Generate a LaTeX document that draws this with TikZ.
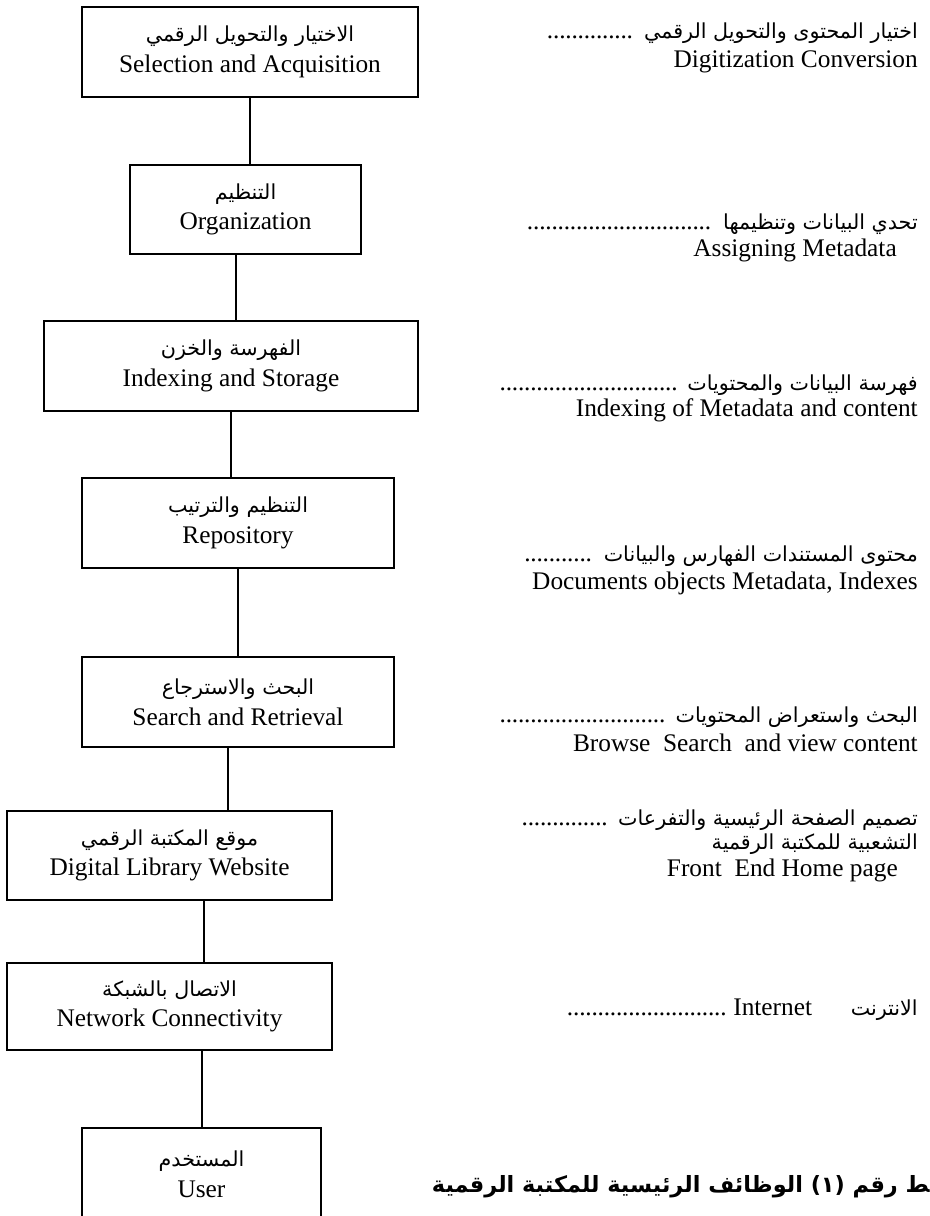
\documentclass[tikz,border=0pt]{standalone}
\usepackage{fontspec}
\setmainfont{Liberation Serif}
\newfontfamily\arabicfont[Script=Arabic]{DejaVu Sans}
\TeXXeTstate=1
\usetikzlibrary{positioning, calc}
\newcommand{\artext}[1]{{\arabicfont\fontsize{15.5}{23}\selectfont #1}}
\newcommand{\dotrow}[2]{\hbox to #1{\leaders\hbox to 4.6pt{\hss.\hss}\hfill\ {\arabicfont\fontsize{15.5}{16}\selectfont #2}}}
\tikzset{
  every picture/.style={x=0.75pt, y=-0.75pt},
  stagebox/.style={draw, line width=1.2pt, align=center, inner sep=0pt, minimum width=#1, minimum height=67.5pt, font=\fontsize{19}{23}\selectfont},
  link/.style={line width=0.9pt},
  note/.style={anchor=east, inner sep=0pt, font=\fontsize{19}{21}\selectfont},
  ar/.style={font=\arabicfont\fontsize{15.5}{16}\selectfont},
  caption/.style={anchor=east, inner sep=0pt, font=\arabicfont\bfseries\fontsize{16.8}{18}\selectfont},
}

\begin{document}
\begin{tikzpicture}
  \useasboundingbox (0,0) rectangle (930,1216);
  \clip (0,0) rectangle (930,1216);
  % stages
  \node[stagebox=252pt] (sel) at (250,52) {\artext{\beginR الاختيار والتحويل الرقمي\endR}\\ Selection and Acquisition};
  \node[stagebox=173.25pt, minimum height=66.75pt] (org) at (245.5,209.5) {\artext{\beginR التنظيم\endR}\\ Organization};
  \node[stagebox=280.5pt] (idx) at (231,366) {\artext{\beginR الفهرسة والخزن\endR}\\ Indexing and Storage};
  \node[stagebox=234pt] (repo) at (238,523) {\artext{\beginR التنظيم والترتيب\endR}\\ Repository};
  \node[stagebox=234pt] (srch) at (238,702) {\artext{\beginR البحث والاسترجاع\endR}\\ Search and Retrieval};
  \node[stagebox=243.75pt, minimum height=66.75pt] (web) at (169.5,855.5) {\artext{\beginR موقع المكتبة الرقمي\endR}\\ Digital Library Website};
  \node[stagebox=243.75pt, minimum height=65.25pt] (net) at (169.5,1006.5) {\artext{\beginR الاتصال بالشبكة\endR}\\ Network Connectivity};
  \node[stagebox=179.25pt, minimum height=70pt] (user) at (201.5,1174.5) {\artext{\beginR المستخدم\endR}\\ User};
  % links
  \foreach \a/\b/\s in {sel/org/0, org/idx/-7.1, idx/repo/0, repo/srch/0, srch/web/-7.5, web/net/25.9, net/user/24.4}
    {\draw[link] ([xshift=\s pt]\a.south) -- ([xshift=\s pt]\a.south |- \b.north);}
  % notes
  \node[note] (n1a) at (918,33) {\dotrow{278pt}{\beginR اختيار المحتوى والتحويل الرقمي\endR}};
  \node[note] (n1b) at (918,62) {Digitization Conversion};
  \node[note] (n2a) at (918,224) {\dotrow{293pt}{\beginR تحدي البيانات وتنظيمها\endR}};
  \node[note] (n2b) at (897,250) {Assigning Metadata};
  \node[note] (n3a) at (918,385) {\dotrow{313.5pt}{\beginR فهرسة البيانات والمحتويات\endR}};
  \node[note] (n3b) at (918,410) {Indexing of Metadata and content};
  \node[note] (n4a) at (918,556) {\dotrow{295pt}{\beginR محتوى المستندات الفهارس والبيانات\endR}};
  \node[note] (n4b) at (918,583) {Documents objects Metadata, Indexes};
  \node[note] (n5a) at (918,717) {\dotrow{313.5pt}{\beginR البحث واستعراض المحتويات\endR}};
  \node[note] (n5b) at (918,743) {Browse\ \ Search\ \ and view content};
  \node[note] (n6a) at (918,820) {\dotrow{297pt}{\beginR تصميم الصفحة الرئيسية والتفرعات\endR}};
  \node[note, ar] (n6b) at (918,844) {\beginR التشعبية للمكتبة الرقمية\endR};
  \node[note] (n6c) at (898,870) {Front\ \ End Home page};
  \node[note] (n7) at (918,1010) {\hbox to 263pt{\leaders\hbox to 4.6pt{\hss.\hss}\hfill\ Internet\hspace{29pt}{\arabicfont\fontsize{15.5}{16}\selectfont\beginR الانترنت\endR}}};
  % caption
  \node[caption] (title) at (930,1187) {\beginR ^^^^200dط رقم (١) الوظائف الرئيسية للمكتبة الرقمية\endR};
\end{tikzpicture}
\end{document}
